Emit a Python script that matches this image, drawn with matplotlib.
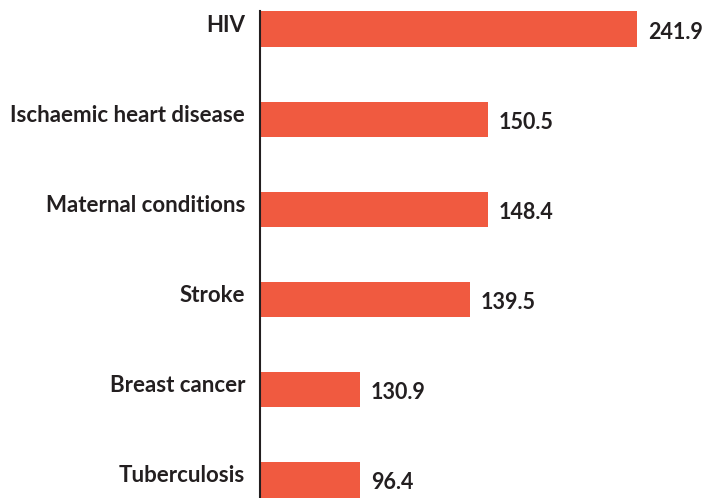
import matplotlib
matplotlib.use("Agg")
import matplotlib.pyplot as plt
import matplotlib.transforms as mtransforms

categories = ["HIV", "Ischaemic heart disease", "Maternal conditions",
              "Stroke", "Breast cancer", "Tuberculosis"]
# printed values
value_labels = ["241.9", "150.5", "148.4", "139.5", "130.9", "96.4"]
# bar lengths as drawn in the picture (same units as HIV = 241.9)
bar_lengths = [241.9, 146.3, 146.3, 134.8, 64.2, 64.2]

BAR_COLOR = "#F05A40"
TEXT_COLOR = "#231F20"
FONT = ["Lato", "DejaVu Sans"]

W, H = 703, 498
fig = plt.figure(figsize=(W / 100, H / 100), dpi=100)
ax_left = 260 / W
ax_top = 1 - 11 / H
ax = fig.add_axes([ax_left, 0, 1 - ax_left, ax_top])

pos = list(range(len(categories)))
ax.barh(pos, bar_lengths, height=0.39, color=BAR_COLOR, align="center")

ax.set_xlim(0, 284.3)
ax.set_ylim(5.2, -0.2)

for s in ["top", "right", "bottom"]:
    ax.spines[s].set_visible(False)
ax.spines["left"].set_linewidth(1.5)
ax.spines["left"].set_color(TEXT_COLOR)
ax.set_xticks([])
ax.set_yticks([])

cat_tr = mtransforms.offset_copy(
    mtransforms.blended_transform_factory(ax.transAxes, ax.transData),
    fig=fig, x=-15, y=4, units="dots")
for p, c in zip(pos, categories):
    ax.text(0, p, c, transform=cat_tr, ha="right", va="center",
            fontsize=16, fontweight="bold", color=TEXT_COLOR, family=FONT)

val_tr = mtransforms.offset_copy(ax.transData, fig=fig, x=11, y=-3, units="dots")
for p, L, v in zip(pos, bar_lengths, value_labels):
    ax.text(L, p, v, transform=val_tr, ha="left", va="center",
            fontsize=15.5, fontweight="bold", color=TEXT_COLOR, family=FONT)

fig.savefig("out.png", dpi=100)
